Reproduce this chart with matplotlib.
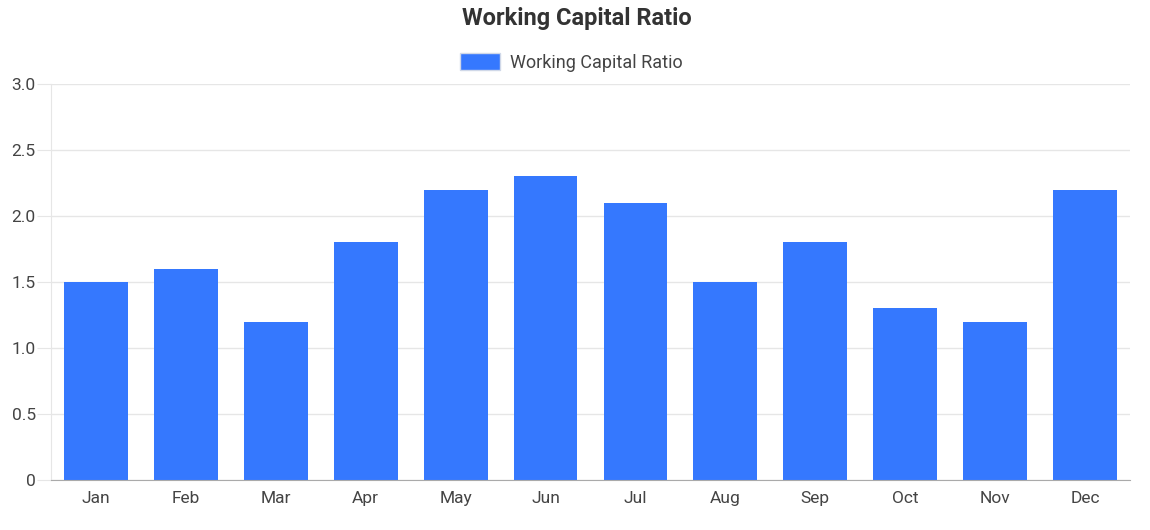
import matplotlib
matplotlib.use("Agg")
import matplotlib.pyplot as plt
from matplotlib.patches import Patch

plt.rcParams['font.family'] = ['Roboto', 'DejaVu Sans']

months = ['Jan', 'Feb', 'Mar', 'Apr', 'May', 'Jun', 'Jul', 'Aug', 'Sep', 'Oct', 'Nov', 'Dec']
ratio = [1.5, 1.6, 1.2, 1.8, 2.2, 2.3, 2.1, 1.5, 1.8, 1.3, 1.2, 2.2]
yticks = [0, 0.5, 1.0, 1.5, 2.0, 2.5, 3.0]
ytick_labels = ['0', '0.5', '1.0', '1.5', '2.0', '2.5', '3.0']

bar_color = '#3578fe'
text_color = '#444444'

fig = plt.figure(figsize=(11.5, 5.3), dpi=100)
ax = fig.add_axes([0.0443, 0.0943, 0.9383, 0.7472])

x = range(len(months))
ax.bar(x, ratio, width=0.71, color=bar_color, zorder=2)

ax.set_xlim(-0.5, len(months) - 0.5)
ax.set_ylim(0, 3.0)
ax.set_xticks(list(x))
ax.set_xticklabels(months)
ax.set_yticks(yticks)
ax.set_yticklabels(ytick_labels)

ax.grid(axis='y', color='#e6e6e6', linewidth=1, zorder=0)
ax.tick_params(axis='y', length=10, color='#e6e6e6', labelsize=12.5, labelcolor=text_color, pad=1)
ax.tick_params(axis='x', length=0, labelsize=12.5, labelcolor=text_color, pad=8)

for s in ['top', 'right']:
    ax.spines[s].set_visible(False)
ax.spines['left'].set_color('#e6e6e6')
ax.spines['bottom'].set_color('#aaaaaa')

fig.text(0.502, 0.966, 'Working Capital Ratio', ha='center', va='center',
         fontsize=17, fontweight='bold', color='#333333')

handle = Patch(facecolor=bar_color, edgecolor='#d0d8e8', linewidth=1)
fig.legend([handle], ['Working Capital Ratio'], loc='center', bbox_to_anchor=(0.497, 0.882),
           frameon=False, fontsize=13, handlelength=2.2, handleheight=1.0,
           handletextpad=0.55, labelcolor=text_color)

fig.savefig('out.png', dpi=100)
